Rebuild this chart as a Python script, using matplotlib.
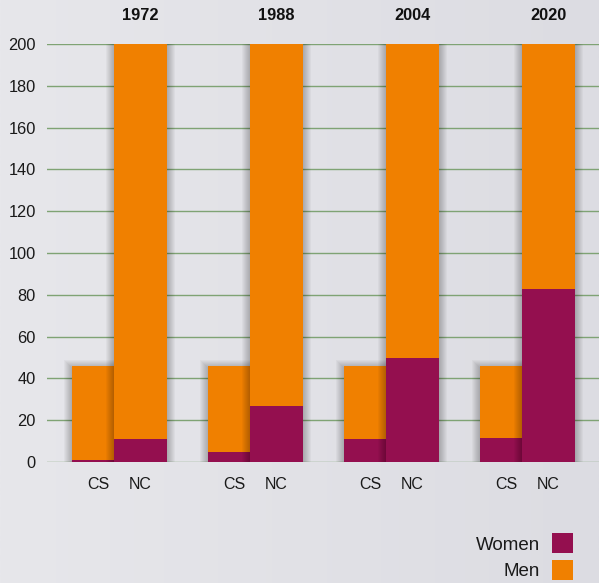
import numpy as np
import matplotlib.pyplot as plt
from matplotlib.patches import Rectangle

plt.rcParams['font.family'] = ['Liberation Sans', 'DejaVu Sans']

years = ['1972', '1988', '2004', '2020']
cs_women = [1, 5, 11, 11.5]
cs_total = [46, 46, 46, 46]
nc_women = [11, 27, 50, 83]
nc_total = [200, 200, 200, 200]

women_color = '#940f4f'
men_color = '#f08000'
grid_color = '#7fa374'

fig = plt.figure(figsize=(5.99, 5.83), dpi=100)

# soft grey backdrop, a touch lighter on the left
bg = fig.add_axes([0, 0, 1, 1], zorder=-10)
grad = np.linspace(0, 1, 256).reshape(1, -1)
bg.imshow(grad, aspect='auto', cmap=plt.matplotlib.colors.LinearSegmentedColormap.from_list(
    'bg', ['#e7e7eb', '#dcdce2']), extent=[0, 1, 0, 1])
bg.axis('off')

ax = fig.add_axes([47 / 599, (583 - 462) / 583, 1 - 47 / 599, 418 / 583])
ax.patch.set_alpha(0)

x = np.arange(len(years))
offset = 42 / 136
width = 53 / 136
cs_x = x
nc_x = x + offset


def draw_shadow(xs, heights, z):
    # layered translucent rectangles give a soft drop shadow
    for k in range(8):
        grow = (k + 1) * 0.007
        ax.bar(xs, np.array(heights) + k * 0.45, width=width + 2 * grow, bottom=-0.5,
               color='black', alpha=0.03, linewidth=0, zorder=z)


for i in range(len(years)):
    draw_shadow([cs_x[i]], [cs_total[i]], 2)
    ax.bar(cs_x[i], cs_women[i], width=width, color=women_color, linewidth=0, zorder=3)
    ax.bar(cs_x[i], cs_total[i] - cs_women[i], bottom=cs_women[i], width=width,
           color=men_color, linewidth=0, zorder=3)
    draw_shadow([nc_x[i]], [nc_total[i]], 4)
    ax.bar(nc_x[i], nc_women[i], width=width, color=women_color, linewidth=0, zorder=5)
    ax.bar(nc_x[i], nc_total[i] - nc_women[i], bottom=nc_women[i], width=width,
           color=men_color, linewidth=0, zorder=5)
    ax.text(nc_x[i], 1 + 28 / 418, years[i], transform=ax.get_xaxis_transform(),
            ha='center', va='center', fontsize=11.8, fontweight='bold', color='#111111')

ax.set_xlim((47 - 98.5) / 136, (599 - 98.5) / 136)
ax.set_ylim(0, 200)
ax.set_yticks(range(0, 201, 20))
ax.yaxis.grid(True, color=grid_color, linewidth=1.0)
ax.set_axisbelow(True)
for s in ax.spines.values():
    s.set_visible(False)

ticks = np.concatenate([cs_x, nc_x])
labels = ['CS'] * len(years) + ['NC'] * len(years)
ax.set_xticks(ticks)
ax.set_xticklabels(labels)
ax.tick_params(axis='x', length=0, pad=11, labelsize=11.5, labelcolor='#1a1a1a')
ax.tick_params(axis='y', length=0, pad=8, labelsize=11.8, labelcolor='#1a1a1a')

# legend: labels on the left, colour squares on the right
legend_items = [('Women', women_color), ('Men', men_color)]
for j, (name, col) in enumerate(legend_items):
    ytop = 533 + j * 27
    fig.patches.append(Rectangle((552 / 599, 1 - (ytop + 20) / 583), 21 / 599, 20 / 583,
                                 transform=fig.transFigure, color=col, linewidth=0))
    fig.text(540 / 599, 1 - (ytop + 12) / 583, name, ha='right', va='center',
             fontsize=13.5, color='#1a1a1a')

fig.savefig('out.png', dpi=100)
